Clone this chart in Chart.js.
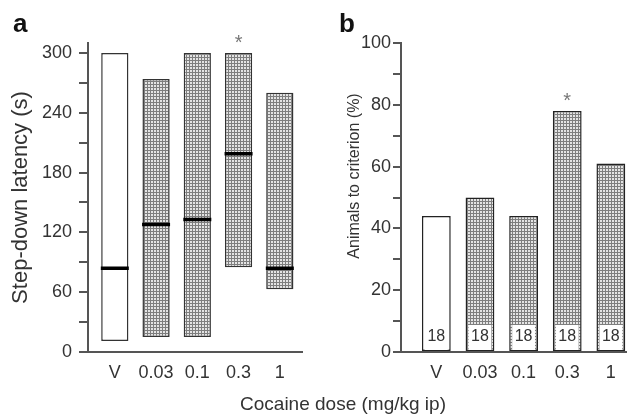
<!DOCTYPE html>
<html>
<head>
<meta charset="utf-8">
<script src="https://cdn.jsdelivr.net/npm/chart.js@4.4.1/dist/chart.umd.min.js"></script>
<style>
  body { margin: 0; background: #fff; }
  #wrap { position: relative; width: 627px; height: 414px; font-family: "Liberation Sans", Arial, sans-serif; color: #333; }
  canvas { position: absolute; top: 0; }
  #plotA { left: 0; }
  #plotB { left: 320px; }
  .panel { position: absolute; top: 10px; font-weight: bold; font-size: 26px; line-height: 26px; color: #111; }
  #xTitle { position: absolute; left: 193px; width: 300px; top: 394px; text-align: center; font-size: 19px; line-height: 19px; }
</style>
</head>
<body>
<div id="wrap">
  <canvas id="plotA" width="320" height="414"></canvas>
  <canvas id="plotB" width="307" height="414"></canvas>
  <div class="panel" style="left:13px">a</div>
  <div class="panel" style="left:339px">b</div>
  <div id="xTitle">Cocaine dose (mg/kg ip)</div>
</div>
<script>
// cocaine doses (x categories)
const doses = ['V', '0.03', '0.1', '0.3', '1'];

// panel a: step-down latency ranges and medians (s)
const latencyLow = [11, 15, 15, 85, 63];
const latencyHigh = [300, 274, 300, 300, 260];
const latencyMedian = [84, 128, 133, 199, 84];
const sigA = [false, false, false, true, false];

// panel b: animals to criterion (%)
const criterionPct = [44, 50, 44, 78, 61];
const groupN = [18, 18, 18, 18, 18];
const sigB = [false, false, false, true, false];

// tick values
const yTicksA = [0, 30, 60, 90, 120, 150, 180, 210, 240, 270, 300];
const yLabelsA = [0, 60, 120, 180, 240, 300];
const yTicksB = [0, 10, 20, 30, 40, 50, 60, 70, 80, 90, 100];
const yLabelsB = [0, 20, 40, 60, 80, 100];

const FONT = '"Liberation Sans", Arial, sans-serif';
const TXT = '#333';
const AX = '#555';

// stippled fill
const tile = document.createElement('canvas');
tile.width = 3; tile.height = 3;
const tc = tile.getContext('2d');
tc.fillStyle = '#e4e4e4'; tc.fillRect(0, 0, 3, 3);
tc.fillStyle = '#7e7e7e'; tc.fillRect(0, 0, 3, 1); tc.fillRect(0, 0, 1, 3);
const stipple = tc.createPattern(tile, 'repeat');
const fills = doses.map((d, i) => i === 0 ? '#fff' : stipple);

// asterisks, "n" boxes and free y title
const extras = {
  id: 'extras',
  afterDatasetsDraw(chart, args, opts) {
    const {ctx, scales: {x, y}} = chart;
    ctx.save();
    ctx.font = '20px ' + FONT;
    ctx.fillStyle = '#777';
    ctx.textAlign = 'center';
    ctx.textBaseline = 'middle';
    opts.sig.forEach((s, i) => {
      if (s) ctx.fillText('*', x.getPixelForValue(i), y.getPixelForValue(opts.tops[i]) - 9);
    });
    if (opts.n) {
      const meta = chart.getDatasetMeta(0);
      ctx.font = '16px ' + FONT;
      opts.n.forEach((n, i) => {
        const bar = meta.data[i];
        const w = bar.width;
        ctx.fillStyle = '#fff';
        ctx.fillRect(bar.x - w / 2 + 3, y.bottom - 27, w - 6, 25);
        ctx.fillStyle = TXT;
        ctx.fillText(String(n), bar.x, y.bottom - 15);
      });
    }
    if (opts.title) {
      ctx.translate(opts.title.x, opts.title.y);
      ctx.rotate(-Math.PI / 2);
      ctx.font = '16px ' + FONT;
      ctx.fillStyle = TXT;
      ctx.fillText(opts.title.text, 0, 0);
    }
    ctx.restore();
  }
};

function xAxis(min, max) {
  return {
    type: 'linear', min: min, max: max, offset: false,
    afterBuildTicks: s => { s.ticks = doses.map((d, i) => ({value: i})); },
    afterFit: s => { s.height = 62; },
    ticks: { callback: (v, i) => doses[i], font: {family: FONT, size: 18}, color: TXT, padding: 10, maxRotation: 0 },
    grid: { display: false, drawTicks: false, offset: false },
    border: { color: AX, width: 2 }
  };
}

new Chart(document.getElementById('plotA'), {
  type: 'bar',
  data: {
    datasets: [{
      type: 'line',
      data: latencyMedian.map((v, i) => ({x: i, y: v})),
      showLine: false,
      pointStyle: 'line',
      pointRadius: 14,
      pointBorderWidth: 3.5,
      pointBorderColor: '#000',
      order: 0
    }, {
      data: latencyLow.map((v, i) => ({x: i, y: [v, latencyHigh[i]]})),
      backgroundColor: fills,
      borderColor: '#333',
      borderWidth: 1.5,
      borderSkipped: false,
      grouped: false,
      categoryPercentage: 1,
      barPercentage: 0.66,
      order: 1
    }]
  },
  options: {
    responsive: false,
    animation: false,
    layout: { padding: {left: 0, right: 7, top: 43, bottom: 0} },
    plugins: {
      legend: {display: false},
      tooltip: {enabled: false},
      extras: { sig: sigA, tops: latencyHigh }
    },
    scales: {
      x: xAxis(-0.65, 4.55),
      y: {
        min: 0, max: 310,
        afterBuildTicks: s => { s.ticks = yTicksA.map(v => ({value: v})); },
        afterFit: s => { s.width = 88; },
        ticks: { callback: v => yLabelsA.includes(v) ? v : '', font: {family: FONT, size: 18}, color: TXT, padding: 7 },
        grid: { drawOnChartArea: false, tickLength: 9, color: AX, lineWidth: 2 },
        border: { color: AX, width: 2 },
        title: { display: true, text: 'Step-down latency (s)', font: {family: FONT, size: 22}, color: TXT, padding: {top: 8, bottom: 0} }
      }
    }
  },
  plugins: [extras]
});

new Chart(document.getElementById('plotB'), {
  type: 'bar',
  data: {
    datasets: [{
      data: criterionPct.map((v, i) => ({x: i, y: v})),
      backgroundColor: fills,
      borderColor: '#222',
      borderWidth: 1.5,
      borderSkipped: false,
      categoryPercentage: 1,
      barPercentage: 0.66
    }]
  },
  options: {
    responsive: false,
    animation: false,
    layout: { padding: {left: 0, right: 0, top: 43, bottom: 0} },
    plugins: {
      legend: {display: false},
      tooltip: {enabled: false},
      extras: { sig: sigB, tops: criterionPct, n: groupN, title: {text: 'Animals to criterion (%)', x: 35, y: 176} }
    },
    scales: {
      x: xAxis(-0.81, 4.37),
      y: {
        min: 0, max: 100,
        afterBuildTicks: s => { s.ticks = yTicksB.map(v => ({value: v})); },
        afterFit: s => { s.width = 81; },
        ticks: { callback: v => yLabelsB.includes(v) ? v : '', font: {family: FONT, size: 18}, color: TXT, padding: 2 },
        grid: { drawOnChartArea: false, tickLength: 8, color: AX, lineWidth: 2 },
        border: { color: AX, width: 2 }
      }
    }
  },
  plugins: [extras]
});
</script>
</body>
</html>
